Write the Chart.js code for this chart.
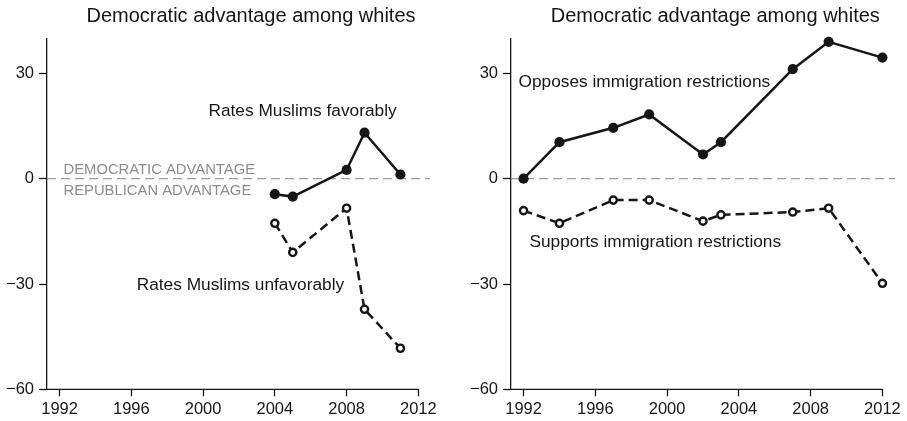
<!DOCTYPE html>
<html><head><meta charset="utf-8">
<script src="https://cdn.jsdelivr.net/npm/chart.js@4"></script>
<style>html,body{margin:0;padding:0;background:#fff;}
#wrap{position:relative;width:907px;height:421px;overflow:hidden;}
canvas{position:absolute;top:0;}
</style></head><body>
<div id="wrap">
<canvas id="c1" width="453" height="421" style="left:0"></canvas>
<canvas id="c2" width="454" height="421" style="left:453px"></canvas>
</div>
<script>
const panelTitle = "Democratic advantage among whites";
const yTicks = [-60, -30, 0, 30];
const xTicks = [1992, 1996, 2000, 2004, 2008, 2012];
const muslimYears = [2004, 2005, 2008, 2009, 2011];
const favorable = [-4.4, -5.1, 2.5, 13.1, 1.2];
const unfavorable = [-12.7, -21.0, -8.4, -37.2, -48.3];
const immYears = [1992, 1994, 1997, 1999, 2002, 2003, 2007, 2009, 2012];
const opposes = [0, 10.4, 14.5, 18.3, 6.9, 10.4, 31.2, 39.0, 34.5];
const supports = [-9.1, -12.7, -6.1, -6.1, -12.1, -10.3, -9.5, -8.4, -29.8];
const leftLabels = ["Rates Muslims favorably", "Rates Muslims unfavorably", "DEMOCRATIC ADVANTAGE", "REPUBLICAN ADVANTAGE"];
const rightLabels = ["Opposes immigration restrictions", "Supports immigration restrictions"];

const FONT = "'Liberation Sans', Arial, Helvetica, sans-serif";
const INK = '#161616';

function pts(xs, ys) { return xs.map((x, i) => ({ x: x, y: ys[i] })); }

function solidSet(data) {
  return { data: data, borderColor: INK, borderWidth: 2.5, pointRadius: 5.1, pointBackgroundColor: INK,
    pointBorderWidth: 0, tension: 0, clip: false };
}
function hollowSet(data) {
  return { data: data, borderColor: INK, borderWidth: 2.5, borderDash: [9, 5], pointRadius: 3.6,
    pointBackgroundColor: '#fff', pointBorderColor: INK, pointBorderWidth: 2.4, tension: 0, clip: false };
}

const decorPlugin = {
  id: 'decor',
  beforeDatasetsDraw(chart, args, o) {
    const ctx = chart.ctx, a = chart.chartArea, xs = chart.scales.x, ys = chart.scales.y;
    ctx.save();
    const y0 = ys.getPixelForValue(0);
    ctx.strokeStyle = '#9a9a9a'; ctx.lineWidth = 1.2; ctx.setLineDash([9, 5]);
    ctx.beginPath(); ctx.moveTo(a.left, y0); ctx.lineTo(a.right, y0); ctx.stroke();
    ctx.setLineDash([]);
    ctx.strokeStyle = INK; ctx.lineWidth = 1.3;
    ctx.beginPath(); ctx.moveTo(a.left, a.bottom); ctx.lineTo(xs.getPixelForValue(xTicks[xTicks.length - 1]), a.bottom); ctx.stroke();
    ctx.textBaseline = 'alphabetic'; ctx.textAlign = 'left';
    o.notes.forEach(n => {
      ctx.font = n.size + 'px ' + FONT; ctx.fillStyle = n.color;
      ctx.fillText(n.text, xs.getPixelForValue(n.x), ys.getPixelForValue(n.y));
    });
    ctx.font = '20px ' + FONT; ctx.fillStyle = INK; ctx.textAlign = 'center';
    ctx.fillText(panelTitle, o.titleX, 21.7);
    ctx.restore();
  }
};

function makeChart(id, datasets, yAxisWidth, padRight, xMax, notes, titleX) {
  return new Chart(document.getElementById(id), {
    type: 'line',
    data: { datasets: datasets },
    options: {
      responsive: false, animation: false, events: [],
      layout: { padding: { top: 38.3, right: padRight, left: 0, bottom: 0 } },
      plugins: { legend: { display: false }, tooltip: { enabled: false }, decor: { notes: notes, titleX: titleX } },
      scales: {
        x: {
          type: 'linear', min: 1991.3, max: xMax,
          afterBuildTicks: s => { s.ticks = xTicks.map(v => ({ value: v })); },
          afterFit: s => { s.height = 421 - 389.3; },
          grid: { display: true, drawOnChartArea: false, drawTicks: true, tickLength: 7, tickColor: INK, tickWidth: 1.3 },
          border: { display: false },
          ticks: { color: INK, padding: 3, font: { family: FONT, size: 16.5 }, maxRotation: 0, autoSkip: false,
            callback: v => String(v) }
        },
        y: {
          type: 'linear', min: -60, max: 40,
          afterBuildTicks: s => { s.ticks = yTicks.map(v => ({ value: v })); },
          afterFit: s => { s.width = yAxisWidth; },
          grid: { display: true, drawOnChartArea: false, drawTicks: true, tickLength: 8, tickColor: INK, tickWidth: 1.3 },
          border: { display: true, color: INK, width: 1.3 },
          ticks: { color: INK, padding: 5, font: { family: FONT, size: 16.5 },
            callback: v => v < 0 ? '\u2212' + Math.abs(v) : String(v) }
        }
      }
    },
    plugins: [decorPlugin]
  });
}

makeChart('c1',
  [solidSet(pts(muslimYears, favorable)), hollowSet(pts(muslimYears, unfavorable))],
  47, 23, 2012.65,
  [
    { text: leftLabels[0], x: 2000.3, y: 17.8, size: 17.3, color: INK },
    { text: leftLabels[1], x: 1996.3, y: -31.7, size: 17.3, color: INK },
    { text: leftLabels[2], x: 1992.22, y: 1.25, size: 14.8, color: '#8c8c8c' },
    { text: leftLabels[3], x: 1992.22, y: -4.64, size: 14.8, color: '#8c8c8c' }
  ], 251);

makeChart('c2',
  [solidSet(pts(immYears, opposes)), hollowSet(pts(immYears, supports))],
  58, 12, 2012.7,
  [
    { text: rightLabels[0], x: 1991.72, y: 26.1, size: 17.3, color: INK },
    { text: rightLabels[1], x: 1992.33, y: -19.5, size: 17.3, color: INK }
  ], 262.3);
</script>
</body></html>
